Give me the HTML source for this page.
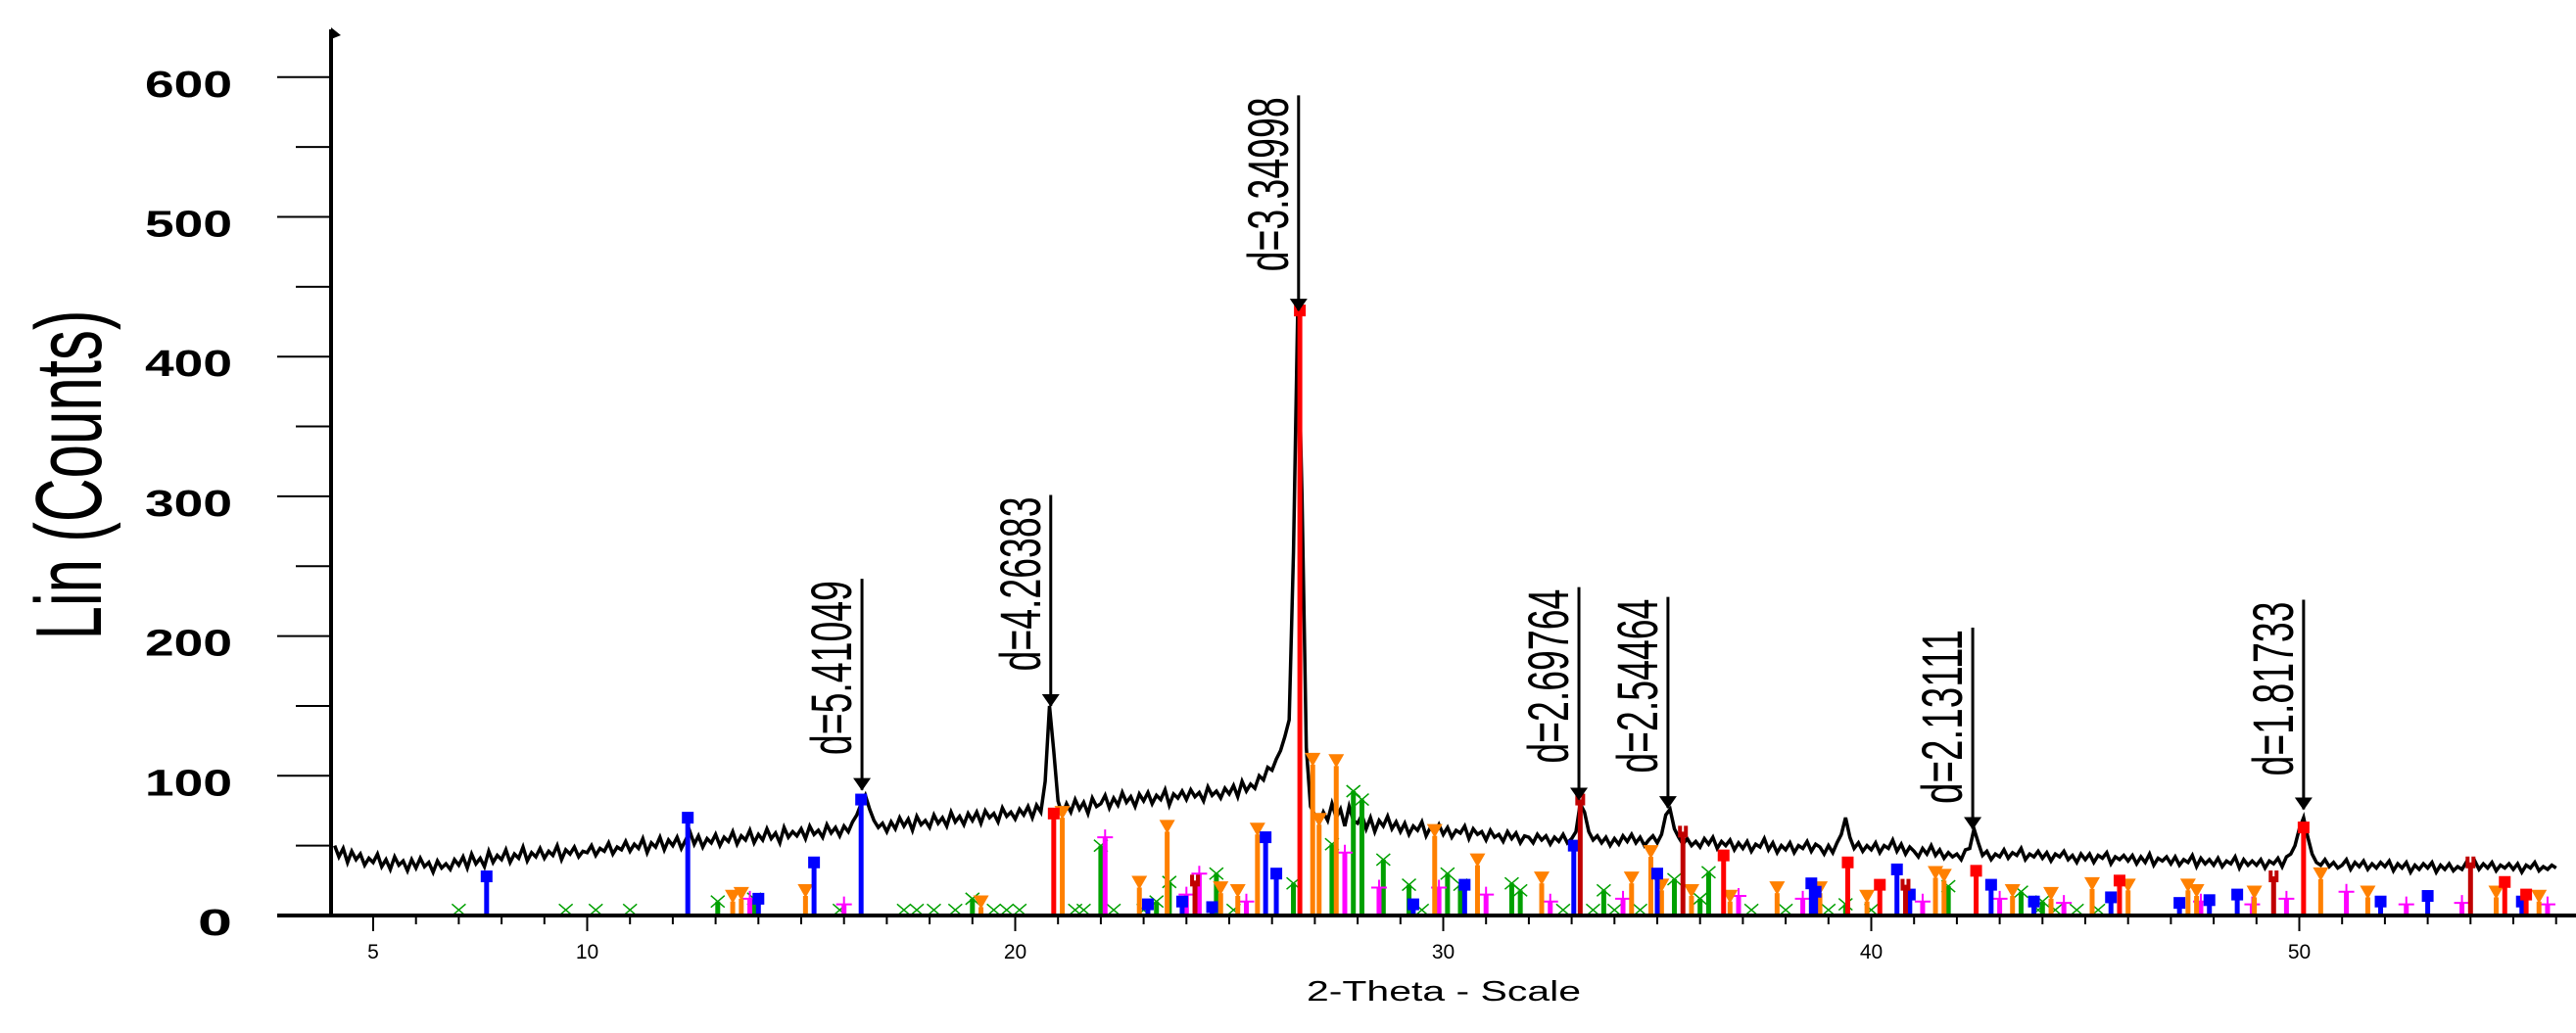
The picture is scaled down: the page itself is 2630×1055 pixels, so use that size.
<!DOCTYPE html>
<html><head><meta charset="utf-8"><style>
html,body{margin:0;padding:0;background:#fff;width:2630px;height:1055px;overflow:hidden}
svg{display:block}
text{font-family:"Liberation Sans",sans-serif}
</style></head><body>
<svg id="chart" width="2630" height="1055" viewBox="0 0 2630 1055" xmlns="http://www.w3.org/2000/svg">
<g id="pattern"></g>
<g id="sticks"></g>
<g id="annots"></g>
<g id="axes"></g>
</svg>
<script>
const thetaStart = 4.1;
const thetaStep = 0.1;
const counts = [50,42,48,38,46,40,44,36,41,
38,44,35,40,33,42,36,39,32,40,
34,41,35,38,31,39,34,37,33,40,
36,42,34,44,37,41,35,46,38,43,
40,47,38,44,41,49,39,45,42,48,
41,46,43,50,40,47,44,49,42,46,
45,50,43,48,46,52,44,49,47,53,
46,51,48,55,45,52,49,56,47,54,
50,56,48,54,60,51,57,49,55,52,
58,50,56,53,60,51,57,54,61,52,
58,54,62,55,59,52,63,56,60,57,
62,55,64,58,61,56,65,59,63,57,
64,60,67,72,80,86,76,68,63,66,
60,67,62,70,64,69,61,71,65,68,
63,72,66,70,64,74,67,71,65,73,
68,74,66,75,70,73,67,77,71,74,
69,76,72,78,70,79,74,96,150,118,
82,72,80,74,83,76,81,73,84,78,
80,86,77,84,79,88,81,85,78,87,
82,88,80,86,83,90,79,87,84,89,
83,90,85,88,82,92,86,89,84,91,
87,93,85,96,89,94,91,100,97,106,
104,112,118,128,140,260,433,300,120,78,
72,66,74,68,80,70,76,64,78,68,
66,72,62,70,60,68,64,71,62,67,
60,66,58,64,61,67,57,63,59,65,
58,63,56,61,59,64,55,62,58,60,
54,61,56,58,53,60,55,59,52,57,
56,52,58,54,57,51,56,53,58,52,
55,60,80,74,60,54,57,52,56,50,
55,51,57,53,58,52,56,50,54,57,
52,58,72,76,62,56,51,55,50,53,
49,55,51,56,48,53,50,54,47,52,
48,53,46,51,49,55,47,52,45,50,
47,52,45,50,48,53,46,51,49,44,
50,45,52,58,70,56,48,52,46,50,
47,52,45,50,48,54,46,51,44,49,
46,42,48,44,50,43,47,41,45,42,
44,40,47,48,62,52,43,46,40,44,
42,47,41,45,43,48,40,44,42,46,
41,45,39,44,42,46,40,43,38,44,
40,44,38,43,41,45,37,42,40,43,
39,43,37,42,38,44,36,41,39,42,
37,42,36,40,38,43,35,41,37,40,
36,41,35,39,37,42,34,40,36,39,
36,40,34,39,37,41,35,42,44,50,
62,70,56,44,38,36,40,35,38,34,
36,40,33,38,35,39,33,37,34,38,
35,39,32,37,34,38,31,36,33,37,
34,38,31,36,33,37,32,35,33,38,
35,39,33,37,34,38,32,36,34,37,
33,37,31,36,34,38,32,35,33,36,
34];
const annotTheta = [16.42,20.83,26.62,33.17,35.25,42.37,50.1];
const annotCount = [90,150,433,83,77,62,76];
const annotTop = [241,301,587,235,228,206,226];
const annotLabels = ["d=5.41049","d=4.26383","d=3.34998","d=2.69764","d=2.54464","d=2.13111","d=1.81733"];
const yTicks = [0,100,200,300,400,500,600];
const yMinor = [50,150,250,350,450,550];
const xLabels = [5,10,20,30,40,50];
const blueTheta = [7.65,12.35,15.3,16.4,25.85,26.1,24.6,29.3,30.5,33.05,35.0,38.6,38.7,40.6,40.9,42.8,43.8,45.6,47.2,47.9,48.55,51.9,53.0,55.2,14.0,23.1,23.9];
const blueInt = [28,70,38,83,56,30,6,8,22,50,30,23,17,33,15,22,10,13,9,11,15,10,14,10,12,8,10];
const redTheta = [20.9,26.65,36.55,39.45,40.2,42.45,45.8,50.1,54.8,55.3];
const redInt = [73,433,43,38,22,32,25,63,24,15];
const darkTheta = [24.2,33.2,35.6,40.8,49.4,54.0];
const darkInt = [25,83,60,22,28,38];
const orangeTheta = [13.4,13.6,15.1,19.2,21.1,22.9,23.55,24.8,25.2,25.66,26.95,27.1,27.5,29.8,30.8,32.3,34.4,34.85,35.1,35.8,36.7,37.8,38.8,41.5,41.7,44.2,45.16,46.0,47.4,47.6,48.95,50.5,51.6,54.6,55.6,43.3,39.9];
const orangeInt = [10,12,14,6,70,20,60,16,14,58,108,65,107,57,36,23,23,42,18,14,10,16,16,27,25,12,19,18,18,14,13,26,13,13,10,14,10];
const greenTheta = [13.05,13.9,19.0,22.0,23.3,23.6,24.7,26.5,27.4,27.9,28.1,28.6,29.2,30.1,30.4,31.6,31.8,33.75,35.4,36.2,36.0,39.4,41.8,43.5,44.0,7.0,9.5,10.2,11.0,15.9,17.4,17.7,18.1,18.6,19.5,19.8,20.1,21.4,21.6,22.3,23.0,25.1,29.5,32.8,33.5,34.0,34.6,37.2,38.0,39.0,40.0,43.9,44.3,44.8,45.3];
const greenInt = [10,12,12,50,10,24,30,23,51,89,83,40,22,30,22,23,18,18,26,31,12,8,21,17,10,4,4,4,4,4,4,4,4,4,4,4,4,4,4,4,4,4,4,4,4,4,4,4,4,4,4,4,4,4,4];
const magTheta = [13.8,16.0,22.1,24.3,24.0,25.4,27.7,28.5,29.9,31.0,32.5,34.2,36.9,38.4,41.2,43.0,44.5,47.7,48.9,49.7,51.1,52.5,53.8,55.8];
const magInt = [12,8,56,30,15,10,45,20,20,15,10,12,14,12,10,12,9,10,8,12,17,8,9,8];

const NS = "http://www.w3.org/2000/svg";
const X0 = 338, Y0 = 935, XEND = 2630;
function px(t){ return 381 + (t - 5) * 43.7; }
function py(c){ return Y0 - c * 1.427; }
function mk(tag, attrs, parent){ const e = document.createElementNS(NS, tag); for (const k in attrs) e.setAttribute(k, attrs[k]); parent.appendChild(e); return e; }

const pg = document.getElementById('pattern');
let d = '';
counts.forEach((c,i)=>{ const t = thetaStart + i*thetaStep; d += (i?'L':'M') + px(t).toFixed(1) + ' ' + py(c).toFixed(1); });
const pl = mk('path', {d:d, fill:'none', stroke:'#000', 'stroke-width':3.5}, pg);



const sg = document.getElementById('sticks');
function drawSticks(thetas, ints, color, marker, name){
  thetas.forEach((t,i)=>{
    const x = px(t), yt = py(ints[i]);
    const g = mk('g', {}, sg);
    
    
    if (ints[i] > 5) mk('rect', {x:x-2.5, y:yt, width:5, height:Y0-yt, fill:color}, g);
    if (marker==='square') mk('rect', {x:x-6, y:yt-6, width:12, height:12, fill:color}, g);
    else if (marker==='tri') mk('polygon', {points:`${x-8},${yt-12} ${x+8},${yt-12} ${x},${yt+2}`, fill:color}, g);
    else if (marker==='bars'){ mk('rect',{x:x-5,y:yt-6,width:4,height:12,fill:color},g); mk('rect',{x:x+1,y:yt-6,width:4,height:12,fill:color},g); }
    else if (marker==='x') mk('path', {d:`M${x-7},${yt-6}L${x+7},${yt+6}M${x-7},${yt+6}L${x+7},${yt-6}`, stroke:color, 'stroke-width':1.5}, g);
    else if (marker==='plus') mk('path', {d:`M${x-8},${yt}L${x+8},${yt}M${x},${yt-8}L${x},${yt+8}`, stroke:color, 'stroke-width':2}, g);
  });
}
drawSticks(greenTheta, greenInt, '#00a000', 'x', 'green-phase');
drawSticks(magTheta, magInt, '#ff00ff', 'plus', 'magenta-phase');
drawSticks(orangeTheta, orangeInt, '#ff8000', 'tri', 'orange-phase');
drawSticks(blueTheta, blueInt, '#0000ff', 'square', 'blue-phase');
drawSticks(darkTheta, darkInt, '#c00000', 'bars', 'darkred-phase');
drawSticks(redTheta, redInt, '#ff0000', 'square', 'red-phase');

const ag = document.getElementById('annots');
annotTheta.forEach((t,i)=>{
  const x = px(t), tip = py(annotCount[i]), top = py(annotTop[i]);
  const g = mk('g', {}, ag);
  
  
  mk('line', {x1:x, y1:top, x2:x, y2:tip, stroke:'#000', 'stroke-width':3}, g);
  mk('polygon', {points:`${x-9},${tip-12} ${x+9},${tip-12} ${x},${tip+1}`, fill:'#000'}, g);
  const tx = x - 11, ty = top + 180;
  const tt = mk('text', {x:0, y:0, transform:`translate(${tx},${ty}) rotate(-90)`, 'font-size':58, textLength:178, lengthAdjust:'spacingAndGlyphs', fill:'#000'}, g);
  tt.textContent = annotLabels[i];
});

const ax = document.getElementById('axes');
const ya = mk('line', {x1:X0, y1:30, x2:X0, y2:Y0+2, stroke:'#000', 'stroke-width':4}, ax);


mk('polygon', {points:`${X0},28 ${X0+10},36 ${X0},40`, fill:'#000'}, ax);
const xa = mk('line', {x1:X0-55, y1:Y0, x2:XEND, y2:Y0, stroke:'#000', 'stroke-width':4}, ax);


yTicks.forEach(v=>{
  const y = py(v);
  mk('line', {x1:283, y1:y, x2:X0, y2:y, stroke:'#000', 'stroke-width':2}, ax);
  const t = mk('text', {x:237, y:y+20, 'text-anchor':'end', 'font-size':38, 'font-weight':'bold', 'font-family':'DejaVu Sans, sans-serif', textLength: v===0?35:89, lengthAdjust:'spacingAndGlyphs'}, ax);
  
  
  t.textContent = v;
});
yMinor.forEach(v=>{ const y = py(v); mk('line', {x1:302, y1:y, x2:X0, y2:y, stroke:'#000', 'stroke-width':2}, ax); });
for (let t=5; t<=56; t++){
  const x = px(t);
  const major = xLabels.indexOf(t) >= 0;
  mk('line', {x1:x, y1:Y0, x2:x, y2:Y0 + (major?16:9), stroke:'#000', 'stroke-width':2}, ax);
}
xLabels.forEach(v=>{
  const t = mk('text', {x:px(v), y:979, 'text-anchor':'middle', 'font-size':21}, ax);
  
  
  t.textContent = v;
});
const xt = mk('text', {x:1474, y:1022, 'text-anchor':'middle', 'font-size':29, textLength:280, lengthAdjust:'spacingAndGlyphs'}, ax);


xt.textContent = '2-Theta - Scale';
const yt = mk('text', {x:0, y:0, transform:'translate(103,485) rotate(-90)', 'text-anchor':'middle', 'font-size':96, textLength:337, lengthAdjust:'spacingAndGlyphs'}, ax);


yt.textContent = 'Lin (Counts)';
</script>
</body></html>
